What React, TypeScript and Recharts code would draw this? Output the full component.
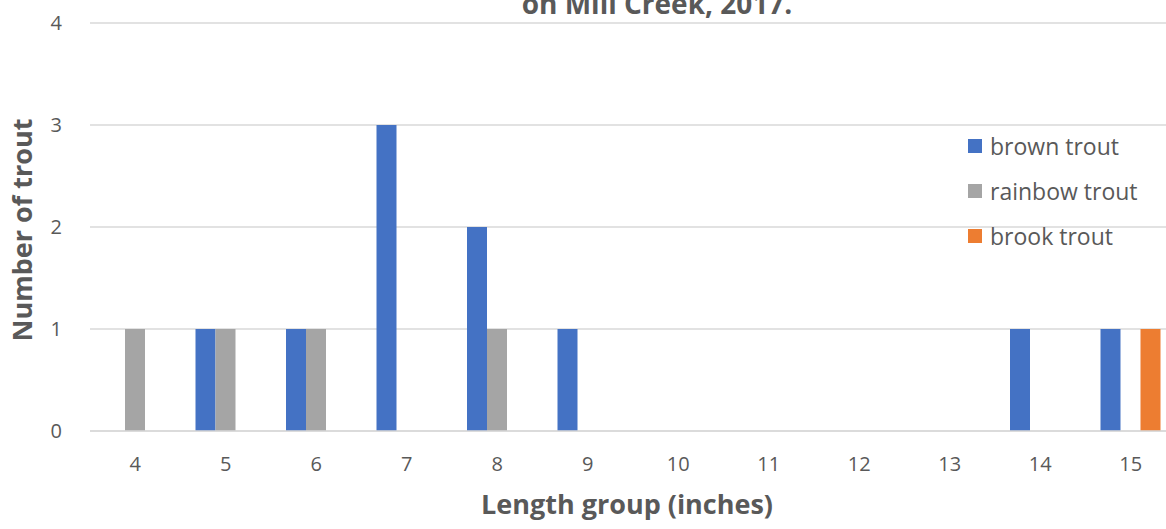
import React from 'react';
import { BarChart, Bar, XAxis, YAxis, CartesianGrid } from 'recharts';

// Length groups (inches) and fish counts per species
const lengthGroups = ['4', '5', '6', '7', '8', '9', '10', '11', '12', '13', '14', '15'];
const brownTrout = [0, 1, 1, 3, 2, 1, 0, 0, 0, 0, 1, 1];
const rainbowTrout = [1, 1, 1, 0, 1, 0, 0, 0, 0, 0, 0, 0];
const brookTrout = [0, 0, 0, 0, 0, 0, 0, 0, 0, 0, 0, 1];
const yTicks = [0, 1, 2, 3, 4];

const series = [
  { key: 'brown', name: 'brown trout', color: '#4472C4' },
  { key: 'rainbow', name: 'rainbow trout', color: '#A5A5A5' },
  { key: 'brook', name: 'brook trout', color: '#ED7D31' },
];

const data = lengthGroups.map((g, i) => ({
  group: g,
  brown: brownTrout[i],
  rainbow: rainbowTrout[i],
  brook: brookTrout[i],
}));

const FONT = '"Open Sans", "Liberation Sans", sans-serif';
const TEXT = '#595959';

const App: React.FC = () => {
  return (
    <div
      style={{
        position: 'fixed',
        left: 0,
        top: 0,
        width: 1166,
        height: 529,
        overflow: 'hidden',
        background: '#fff',
      }}
    >
      <BarChart
        width={1186}
        height={529}
        data={data}
        margin={{ top: 23, right: 10, left: 30, bottom: 58 }}
        barSize={20}
        barGap={0}
      >
        <CartesianGrid vertical={false} stroke="#D9D9D9" strokeWidth={1.5} />
        <XAxis
          dataKey="group"
          height={40}
          tickLine={false}
          axisLine={{ stroke: '#D9D9D9', strokeWidth: 1.5 }}
          tick={{ fill: TEXT, fontSize: 20, fontFamily: FONT }}
          tickMargin={20}
        />
        <YAxis
          width={60}
          domain={[0, 4]}
          ticks={yTicks}
          tickLine={false}
          axisLine={false}
          tick={{ fill: TEXT, fontSize: 20, fontFamily: FONT }}
          tickMargin={22}
        />
        {series.map(s => (
          <Bar
            key={s.key}
            dataKey={s.key}
            name={s.name}
            fill={s.color}
            isAnimationActive={false}
          />
        ))}
      </BarChart>

      {/* legend */}
      <div style={{ position: 'absolute', left: 968, top: 123, fontFamily: FONT }}>
        {series.map(s => (
          <div key={s.key} style={{ display: 'flex', alignItems: 'center', height: 45 }}>
            <span
              style={{
                display: 'inline-block',
                width: 14,
                height: 14,
                background: s.color,
                marginRight: 8,
              }}
            />
            <span style={{ fontSize: 23, color: TEXT }}>{s.name}</span>
          </div>
        ))}
      </div>

      <svg
        width={1166}
        height={529}
        style={{ position: 'absolute', left: 0, top: 0, pointerEvents: 'none' }}
      >
        <text
          x={657}
          y={14}
          textAnchor="middle"
          fontFamily={FONT}
          fontWeight="bold"
          fontSize={28}
          fill={TEXT}
        >
          on Mill Creek, 2017.
        </text>
        <text
          transform="translate(32,230) rotate(-90)"
          textAnchor="middle"
          fontFamily={FONT}
          fontWeight="bold"
          fontSize={27}
          fill={TEXT}
        >
          Number of trout
        </text>
        <text
          x={627}
          y={514}
          textAnchor="middle"
          fontFamily={FONT}
          fontWeight="bold"
          fontSize={27}
          fill={TEXT}
        >
          Length group (inches)
        </text>
      </svg>
    </div>
  );
};

export default App;
